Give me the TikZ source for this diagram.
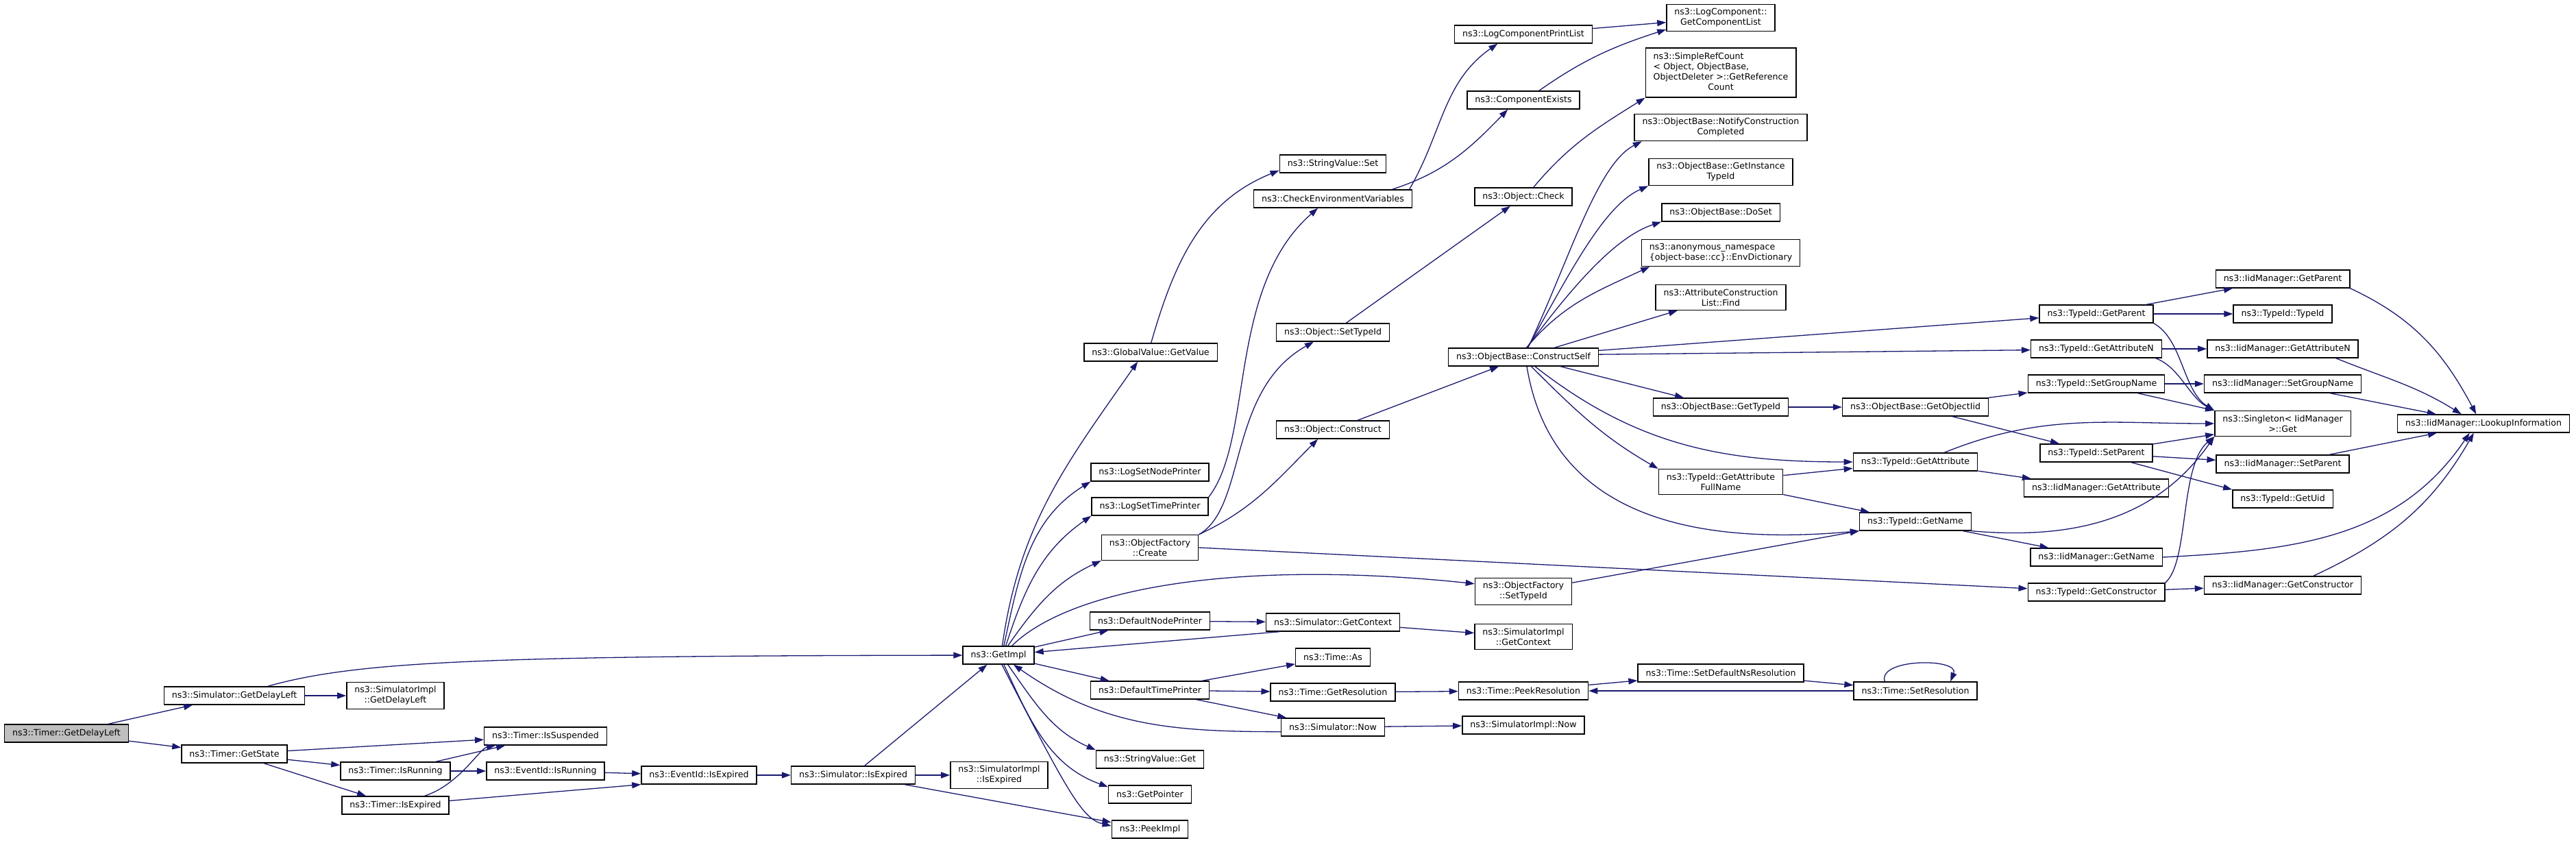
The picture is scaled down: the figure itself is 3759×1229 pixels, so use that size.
\documentclass[tikz,border=0pt]{standalone}
\usepackage{fontspec}
\setmainfont{DejaVu Sans}
\usetikzlibrary{arrows.meta}
\definecolor{edgeblue}{HTML}{191970}
\definecolor{focusgray}{HTML}{BFBFBF}
\begin{document}
\begin{tikzpicture}[x=1pt,y=-1pt,
    func/.style={draw=black,line width=1.4pt,fill=white,inner xsep=11.5pt,inner ysep=6pt,
      minimum height=26pt,align=center,font=\fontsize{12.6}{15}\selectfont},
    focus/.style={func,fill=focusgray},
    call/.style={draw=edgeblue,line width=1.3pt,-{Triangle[length=13pt,width=9pt]}}]
  \useasboundingbox (0,0) rectangle (3759,1229);
  \draw
    (97,1070) node[focus] (0){ns3::Timer::GetDelayLeft}
    (342,1015) node[func] (1){ns3::Simulator::GetDelayLeft}
    (577,1015) node[func] (2){ns3::SimulatorImpl\\::GetDelayLeft}
    (342,1100) node[func] (3){ns3::Timer::GetState}
    (577,1125) node[func] (4){ns3::Timer::IsRunning}
    (577,1175) node[func] (5){ns3::Timer::IsExpired}
    (796,1074) node[func] (6){ns3::Timer::IsSuspended}
    (796,1125) node[func] (7){ns3::EventId::IsRunning}
    (1020,1131) node[func] (8){ns3::EventId::IsExpired}
    (1245,1131) node[func] (9){ns3::Simulator::IsExpired}
    (1458,1131) node[func] (10){ns3::SimulatorImpl\\::IsExpired}
    (1457,956) node[func] (11){ns3::GetImpl}
    (1679,514) node[func] (12){ns3::GlobalValue::GetValue}
    (1678,689) node[func] (13){ns3::LogSetNodePrinter}
    (1678,739) node[func] (14){ns3::LogSetTimePrinter}
    (1678,799) node[func] (15){ns3::ObjectFactory\\::Create}
    (1678,906) node[func] (16){ns3::DefaultNodePrinter}
    (1678,1007) node[func] (17){ns3::DefaultTimePrinter}
    (1678,1108) node[func] (18){ns3::StringValue::Get}
    (1678,1159) node[func] (19){ns3::GetPointer}
    (1678,1210) node[func] (20){ns3::PeekImpl}
    (1945,239) node[func] (21){ns3::StringValue::Set}
    (1945,290) node[func] (22){ns3::CheckEnvironmentVariables}
    (1945,485) node[func] (23){ns3::Object::SetTypeId}
    (1945,627) node[func] (24){ns3::Object::Construct}
    (1945,908) node[func] (25){ns3::Simulator::GetContext}
    (1945,959) node[func] (26){ns3::Time::As}
    (1945,1010) node[func] (27){ns3::Time::GetResolution}
    (1945,1061) node[func] (28){ns3::Simulator::Now}
    (2223,50) node[func] (29){ns3::LogComponentPrintList}
    (2223,146) node[func] (30){ns3::ComponentExists}
    (2223,287) node[func] (31){ns3::Object::Check}
    (2223,521) node[func] (32){ns3::ObjectBase::ConstructSelf}
    (2223,863) node[func] (33){ns3::ObjectFactory\\::SetTypeId}
    (2223,929) node[func] (34){ns3::SimulatorImpl\\::GetContext}
    (2223,1008) node[func] (35){ns3::Time::PeekResolution}
    (2223,1058) node[func] (36){ns3::SimulatorImpl::Now}
    (2511,26) node[func] (37){ns3::LogComponent::\\GetComponentList}
    (2511,106) node[func] (38){\begin{tabular}{@{}l@{}}ns3::SimpleRefCount\\< Object, ObjectBase,\\
      \multicolumn{1}{@{}c@{}}{ObjectDeleter >::GetReference}\\\multicolumn{1}{@{}c@{}}{Count}\end{tabular}}
    (2511,186) node[func] (39){ns3::ObjectBase::NotifyConstruction\\Completed}
    (2511,251) node[func] (40){ns3::ObjectBase::GetInstance\\TypeId}
    (2511,310) node[func] (41){ns3::ObjectBase::DoSet}
    (2511,369) node[func,align=left] (42){ns3::anonymous\_namespace\\\{object-base::cc\}::EnvDictionary}
    (2511,434) node[func] (43){ns3::AttributeConstruction\\List::Find}
    (2511,594) node[func] (44){ns3::ObjectBase::GetTypeId}
    (2511,703) node[func] (45){ns3::TypeId::GetAttribute\\FullName}
    (2511,982) node[func] (46){ns3::Time::SetDefaultNsResolution}
    (2795,594) node[func] (47){ns3::ObjectBase::GetObjectIid}
    (2795,674) node[func] (48){ns3::TypeId::GetAttribute}
    (2795,761) node[func] (49){ns3::TypeId::GetName}
    (2795,1008) node[func] (50){ns3::Time::SetResolution}
    (3059,458) node[func] (51){ns3::TypeId::GetParent}
    (3059,509) node[func] (52){ns3::TypeId::GetAttributeN}
    (3059,560) node[func] (53){ns3::TypeId::SetGroupName}
    (3059,661) node[func] (54){ns3::TypeId::SetParent}
    (3059,712) node[func] (55){ns3::IidManager::GetAttribute}
    (3059,813) node[func] (56){ns3::IidManager::GetName}
    (3059,864) node[func] (57){ns3::TypeId::GetConstructor}
    (3331,407) node[func] (58){ns3::IidManager::GetParent}
    (3331,458) node[func] (59){ns3::TypeId::TypeId}
    (3331,509) node[func] (60){ns3::IidManager::GetAttributeN}
    (3331,560) node[func] (61){ns3::IidManager::SetGroupName}
    (3331,618) node[func] (62){ns3::Singleton< IidManager\\>::Get}
    (3331,677) node[func] (63){ns3::IidManager::SetParent}
    (3331,728) node[func] (64){ns3::TypeId::GetUid}
    (3331,854) node[func] (65){ns3::IidManager::GetConstructor}
    (3624,618) node[func] (66){ns3::IidManager::LookupInformation};
  \begin{scope}[call]
    \draw (0) to (1);
    \draw (0) to (3);
    \draw (1) to (2);
    \draw (1) .. controls (520,965) and (700,957) .. (11);
    \draw (3) to (6);
    \draw (3) to (4);
    \draw (3) to (5);
    \draw (4) to (6);
    \draw (4) to (7);
    \draw (5) .. controls (670,1145) and (700,1092) .. (6);
    \draw (5) to (8.south west);
    \draw (7) to (8);
    \draw (8) to (9);
    \draw (9) to (10);
    \draw (9) to (11);
    \draw (9) to (20);
    \draw (11.68) to[out=82,in=235] (12.216);
    \draw (11.60) to[out=78,in=212] (13.south west);
    \draw (11.52) to[out=72,in=215] (14.south west);
    \draw (11.45) to[out=55,in=205] (15.south west);
    \draw (11.35) .. controls (1560,860) and (1800,815) .. (33.171);
    \draw (11) to (16);
    \draw (11) to (17);
    \draw (11.-45) to[out=-55,in=156] (18.north west);
    \draw (11.-60) to[out=-65,in=160] (19.170);
    \draw (11.-70) .. controls (1560,1160) and (1580,1195) .. (20.175);
    \draw (12.87) to[out=74,in=202] (21.187);
    \draw (14.north east) .. controls (1830,640) and (1790,420) .. (22.212);
    \draw (15.north east) .. controls (1820,740) and (1790,570) .. (23.206);
    \draw (15.north east) to[out=25,in=225] (24.212);
    \draw (15.east) to (57.177);
    \draw (16) to (25);
    \draw (17) to (26);
    \draw (17) to (27);
    \draw (17) to (28);
    \draw (22.9) to[out=18,in=226] (30.211);
    \draw (22.7) to[out=60,in=215] (29.200);
    \draw (23) to (31);
    \draw (24) to (32);
    \draw (25) to (34);
    \draw (25.190) to (11);
    \draw (27) to (35);
    \draw (28) to (36);
    \draw (28.185) to[out=180,in=-35] (11.-32);
    \draw (29) to (37);
    \draw (30.31) to[out=35,in=198] (37.192);
    \draw (31.43) to[out=50,in=212] (38.south west);
    \draw (32.64) .. controls (2290,380) and (2330,240) .. (39.190);
    \draw (32.66) .. controls (2290,400) and (2340,300) .. (40.south west);
    \draw (32.70) .. controls (2300,410) and (2360,345) .. (41.south west);
    \draw (32.72) to[out=50,in=205] (42.191);
    \draw (32) to (43);
    \draw (32.5) to (51.184);
    \draw (32.2) to (52.181);
    \draw (32) to (44);
    \draw (32.-39) to[out=-38,in=180] (48.west);
    \draw (32.-50) to[out=-45,in=150] (45.north west);
    \draw (32.-70) .. controls (2260,730) and (2430,800) .. (49.south west);
    \draw (33) to (49.south west);
    \draw (35) to (46);
    \draw (46) to (50);
    \draw (50) to (35);
    \draw (50.163) .. controls (2740,960) and (2860,960) .. (50.15);
    \draw (44) to (47);
    \draw (45) to (48);
    \draw (45) to (49);
    \draw (47) to (53);
    \draw (47) to (54);
    \draw (48.18) to[out=22,in=180] (62.west);
    \draw (48) to (55);
    \draw (49.south east) to[out=-5,in=235] (62.south west);
    \draw (49) to (56);
    \draw (51) to (58);
    \draw (51) to (59);
    \draw (51.south east) .. controls (3185,495) and (3185,570) .. (62.north west);
    \draw (52) to (60);
    \draw (52.-9) .. controls (3180,535) and (3195,580) .. (62.north west);
    \draw (53) to (61);
    \draw (53) to (62.north west);
    \draw (54) to (62);
    \draw (54) to (63);
    \draw (54) to (64.north west);
    \draw (56.east) to[out=3,in=236] (66.214);
    \draw (57.north east) .. controls (3195,820) and (3180,680) .. (62.south west);
    \draw (57) to (65);
    \draw (58.south east) to[out=-25,in=118] (66.128);
    \draw (60.-10) to[out=-22,in=148] (66.157);
    \draw (61) to (66);
    \draw (63) to (66);
    \draw (65.17) to[out=25,in=240] (66.224);
  \end{scope}
\end{tikzpicture}
\end{document}
